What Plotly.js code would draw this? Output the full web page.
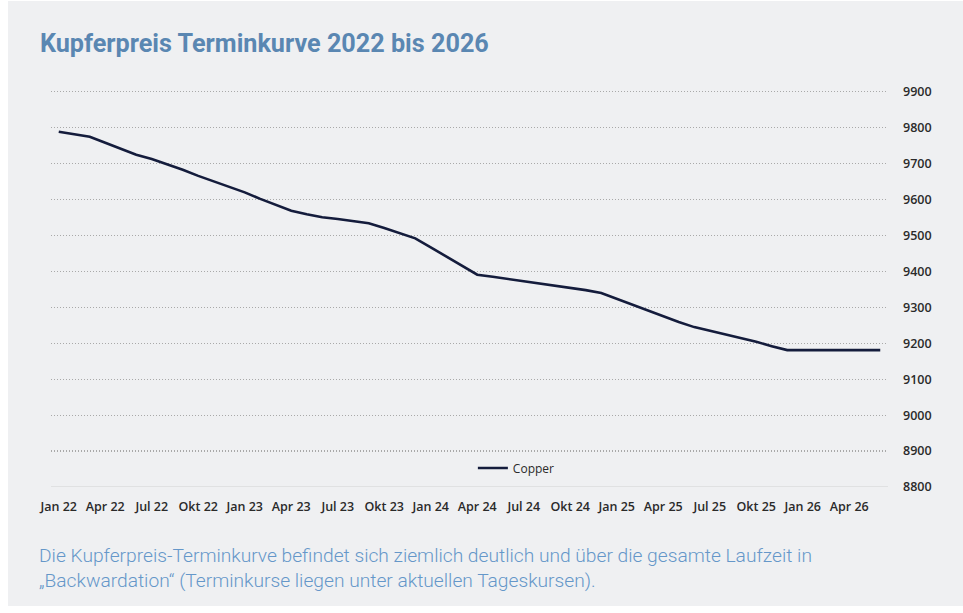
<!DOCTYPE html>
<html>
<head>
<meta charset="utf-8">
<script src="https://cdn.plot.ly/plotly-3.0.1.min.js"></script>
<style>
html,body{margin:0;padding:0;background:#ffffff;}
#chart{width:963px;height:613px;}
</style>
</head>
<body>
<div id="chart"></div>
<script>
const months = [
 "Jan 22","Feb 22","Mrz 22","Apr 22","Mai 22","Jun 22","Jul 22","Aug 22","Sep 22","Okt 22","Nov 22","Dez 22",
 "Jan 23","Feb 23","Mrz 23","Apr 23","Mai 23","Jun 23","Jul 23","Aug 23","Sep 23","Okt 23","Nov 23","Dez 23",
 "Jan 24","Feb 24","Mrz 24","Apr 24","Mai 24","Jun 24","Jul 24","Aug 24","Sep 24","Okt 24","Nov 24","Dez 24",
 "Jan 25","Feb 25","Mrz 25","Apr 25","Mai 25","Jun 25","Jul 25","Aug 25","Sep 25","Okt 25","Nov 25","Dez 25",
 "Jan 26","Feb 26","Mrz 26","Apr 26","Mai 26","Jun 26"
];
const copper = [
 9789,9783,9775,9758,9741,9725,9713,9699,9683,9666,9651,9636,
 9620,9602,9585,9569,9559,9551,9546,9540,9534,9521,9507,9492,
 9467,9441,9415,9391,9385,9379,9373,9368,9362,9356,9348,9340,
 9324,9307,9290,9274,9259,9245,9235,9225,9215,9204,9192,9181,
 9181,9181,9181,9181,9181,9181
];
const xTickLabels = ["Jan 22","Apr 22","Jul 22","Okt 22","Jan 23","Apr 23","Jul 23","Okt 23","Jan 24","Apr 24","Jul 24","Okt 24","Jan 25","Apr 25","Jul 25","Okt 25","Jan 26","Apr 26"];
const yTicks = [8800,8900,9000,9100,9200,9300,9400,9500,9600,9700,9800,9900];
const seriesName = "Copper";
const titleText = "Kupferpreis Terminkurve 2022 bis 2026";
const captionText = "Die Kupferpreis-Terminkurve befindet sich ziemlich deutlich und über die gesamte Laufzeit in<br>„Backwardation“ (Terminkurse liegen unter aktuellen Tageskursen).";

const W = 963, H = 613;
const L = 51, R = 888, T = 92, B = 487;

const trace = {
  x: months, y: copper, type: 'scatter', mode: 'lines', name: seriesName,
  line: {color: '#141c3c', width: 2.6}
};

const tickFont = {family: 'Open Sans, sans-serif', size: 12.5, color: '#2a2a2a', weight: 600};

const layout = {
  width: W, height: H,
  paper_bgcolor: '#ffffff', plot_bgcolor: 'rgba(0,0,0,0)',
  margin: {l: L, r: W - R, t: T - 2, b: H - B, pad: 0},
  showlegend: true,
  legend: {
    x: 0.556, y: 0.048, xanchor: 'center', yanchor: 'middle', orientation: 'h',
    bgcolor: 'rgba(0,0,0,0)', font: {family: 'Open Sans, sans-serif', size: 12, color: '#2a2a2a'},
    itemwidth: 30, tracegroupgap: 0
  },
  xaxis: {
    type: 'category', range: [-0.5, 53.5],
    tickmode: 'array', tickvals: xTickLabels, ticktext: xTickLabels,
    showgrid: false, zeroline: false, showline: false, ticks: '',
    tickangle: 0,
    tickfont: tickFont,
    ticklabelstandoff: 10
  },
  yaxis: {
    side: 'right', range: [8800, 9905],
    tickmode: 'array', tickvals: yTicks, ticktext: yTicks.map(String),
    showgrid: true, gridcolor: '#a9a9a9', griddash: '1px,2px', gridwidth: 1.2,
    zeroline: false, showline: false, ticks: '',
    tickfont: tickFont,
    ticklabelstandoff: 14
  },
  shapes: [
    {type: 'rect', xref: 'paper', yref: 'paper', layer: 'below',
     x0: (8 - L) / (R - L), x1: (W - L) / (R - L),
     y0: (B - 606) / (B - T + 2), y1: (B - 1) / (B - T + 2),
     fillcolor: '#eff0f2', line: {width: 0}},
    {type: 'line', xref: 'paper', yref: 'y', x0: 0, x1: 1, y0: 8800, y1: 8800,
     line: {color: '#d2d2d2', width: 1.2}, layer: 'below'}
  ],
  annotations: [
    {text: '<b>' + titleText + '</b>', xref: 'paper', yref: 'paper',
     x: (38 - L) / (R - L), y: (B - 44) / (B - T + 2), xanchor: 'left', yanchor: 'middle',
     showarrow: false, font: {family: 'Roboto, sans-serif', size: 25.2, color: '#5a87b2'}},
    {text: captionText, xref: 'paper', yref: 'paper',
     x: (37 - L) / (R - L), y: (B - 568) / (B - T + 2), xanchor: 'left', yanchor: 'middle', align: 'left',
     showarrow: false, font: {family: 'Roboto, sans-serif', size: 19.2, color: '#6597c9', weight: 300}}
  ]
};

Plotly.newPlot('chart', [trace], layout, {displayModeBar: false, staticPlot: true});
</script>
</body>
</html>
